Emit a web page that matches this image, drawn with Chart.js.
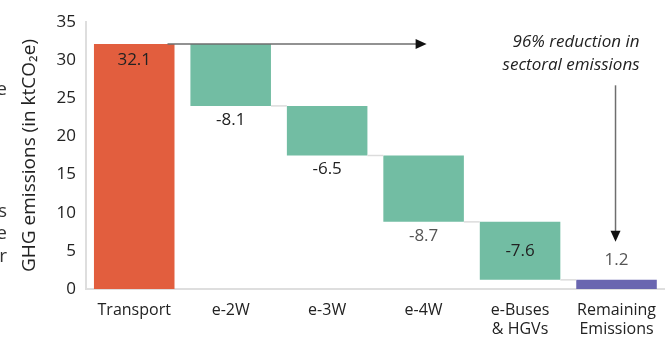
<!DOCTYPE html>
<html>
<head>
<meta charset="utf-8">
<script src="https://cdn.jsdelivr.net/npm/chart.js@4"></script>
<style>
  html, body { margin: 0; padding: 0; background: #fff; }
  #wrap { position: relative; width: 668px; height: 343px; }
</style>
</head>
<body>
<div id="wrap"><canvas id="waterfall"></canvas></div>
<script>
const categories = ['Transport', 'e-2W', 'e-3W', 'e-4W', ['e-Buses', '& HGVs'], ['Remaining', 'Emissions']];
const startValue = 32.1;
const changes = [-8.1, -6.5, -8.7, -7.6];
const remaining = 1.2;
const yTicks = [0, 5, 10, 15, 20, 25, 30, 35];

// where each value label sits relative to its bar
const labelPos = ['top', 'below', 'below', 'below', 'center', 'above'];
const labelColor = ['#222', '#222', '#222', '#555', '#222', '#555'];

// line endings of the neighbouring text block, cut off by the left edge
const edgeText = [['e', 90], ['s', 212], ['e', 234], ['r', 257]];

const FONT = "'Open Sans', sans-serif";

// floating bars: [low, high] for each step
const ranges = [];
const labels = [];
ranges.push([0, startValue]);
labels.push(startValue.toFixed(1));
let level = startValue;
changes.forEach(c => {
    const next = +(level + c).toFixed(1);
    ranges.push([next, level]);
    labels.push(c.toFixed(1));
    level = next;
});
ranges.push([0, remaining]);
labels.push(remaining.toFixed(1));

const colors = ['#E25E3E', '#72BDA3', '#72BDA3', '#72BDA3', '#72BDA3', '#6A66B0'];

const waterfallExtras = {
    id: 'waterfallExtras',
    beforeDraw(chart) {
        const ctx = chart.ctx;
        ctx.save();
        ctx.font = '19px ' + FONT;
        ctx.fillStyle = '#333';
        ctx.textAlign = 'right';
        ctx.textBaseline = 'middle';
        edgeText.forEach(([t, py]) => ctx.fillText(t, 7, py));
        ctx.restore();
    },
    afterDatasetsDraw(chart) {
        const { ctx, scales: { x, y } } = chart;
        const meta = chart.getDatasetMeta(0);
        ctx.save();

        // connectors between consecutive bars
        ctx.strokeStyle = '#dcdcdc';
        ctx.lineWidth = 1.5;
        for (let i = 1; i < meta.data.length - 1; i++) {
            const bar = meta.data[i];
            const nextBar = meta.data[i + 1];
            const py = y.getPixelForValue(ranges[i][0]);
            ctx.beginPath();
            ctx.moveTo(bar.x + bar.width / 2, py);
            ctx.lineTo(nextBar.x - nextBar.width / 2, py);
            ctx.stroke();
        }

        // value labels
        ctx.font = '17px ' + FONT;
        ctx.textAlign = 'center';
        ctx.textBaseline = 'middle';
        meta.data.forEach((bar, i) => {
            const top = y.getPixelForValue(ranges[i][1]);
            const bottom = y.getPixelForValue(ranges[i][0]);
            let ty;
            if (labelPos[i] === 'top') ty = top + 16;
            else if (labelPos[i] === 'below') ty = bottom + 14;
            else if (labelPos[i] === 'center') ty = (top + bottom) / 2;
            else ty = top - 20;
            ctx.fillStyle = labelColor[i];
            ctx.fillText(labels[i], bar.x, ty);
        });

        // horizontal arrow from the starting level
        const first = meta.data[0];
        const ay = y.getPixelForValue(startValue);
        const ax0 = first.x + first.width / 2 - 7;
        const ax1 = x.getPixelForValue(3) + 3;
        ctx.strokeStyle = '#6e6e6e';
        ctx.lineWidth = 1.5;
        ctx.beginPath();
        ctx.moveTo(ax0, ay);
        ctx.lineTo(ax1 - 9, ay);
        ctx.stroke();
        ctx.fillStyle = '#111';
        ctx.beginPath();
        ctx.moveTo(ax1, ay);
        ctx.lineTo(ax1 - 11, ay - 5);
        ctx.lineTo(ax1 - 11, ay + 5);
        ctx.closePath();
        ctx.fill();

        // vertical arrow down to remaining emissions
        const last = meta.data[meta.data.length - 1];
        const vx = last.x - 1;
        const vy0 = y.getPixelForValue(26.7);
        const vy1 = y.getPixelForValue(6.2);
        ctx.strokeStyle = '#6e6e6e';
        ctx.beginPath();
        ctx.moveTo(vx, vy0);
        ctx.lineTo(vx, vy1 - 9);
        ctx.stroke();
        ctx.fillStyle = '#111';
        ctx.beginPath();
        ctx.moveTo(vx, vy1);
        ctx.lineTo(vx - 5, vy1 - 11);
        ctx.lineTo(vx + 5, vy1 - 11);
        ctx.closePath();
        ctx.fill();

        // annotation text
        ctx.font = 'italic 17px ' + FONT;
        ctx.fillStyle = '#222';
        ctx.textAlign = 'right';
        const tx = last.x + 23;
        ctx.fillText('96% reduction in', tx, y.getPixelForValue(32.3));
        ctx.fillText('sectoral emissions', tx, y.getPixelForValue(29.4));

        ctx.restore();
    }
};

new Chart(document.getElementById('waterfall'), {
    type: 'bar',
    data: {
        labels: categories,
        datasets: [{
            data: ranges,
            backgroundColor: colors,
            borderWidth: 0,
            borderSkipped: false,
            barPercentage: 0.835,
            categoryPercentage: 1
        }]
    },
    options: {
        responsive: true,
        maintainAspectRatio: false,
        animation: false,
        layout: { padding: { top: 22, right: 0, left: 0, bottom: 0 } },
        plugins: {
            legend: { display: false },
            tooltip: { enabled: false }
        },
        scales: {
            x: {
                grid: { display: false, drawTicks: false },
                border: { color: '#dedede', width: 2 },
                ticks: {
                    color: '#222',
                    font: { family: FONT, size: 16 },
                    padding: 12,
                    maxRotation: 0
                },
                afterFit(scale) { scale.height = 54; }
            },
            y: {
                min: 0,
                max: 35,
                afterBuildTicks(scale) { scale.ticks = yTicks.map(v => ({ value: v })); },
                grid: { display: false, drawTicks: false },
                border: { color: '#dedede', width: 2 },
                ticks: {
                    color: '#222',
                    font: { family: FONT, size: 17 },
                    padding: 10
                },
                title: {
                    display: true,
                    text: 'GHG emissions (in ktCO₂e)',
                    color: '#222',
                    font: { family: FONT, size: 19 },
                    padding: { top: 18, bottom: 0 }
                },
                afterFit(scale) { scale.width = 86; }
            }
        }
    },
    plugins: [waterfallExtras]
});
</script>
</body>
</html>
